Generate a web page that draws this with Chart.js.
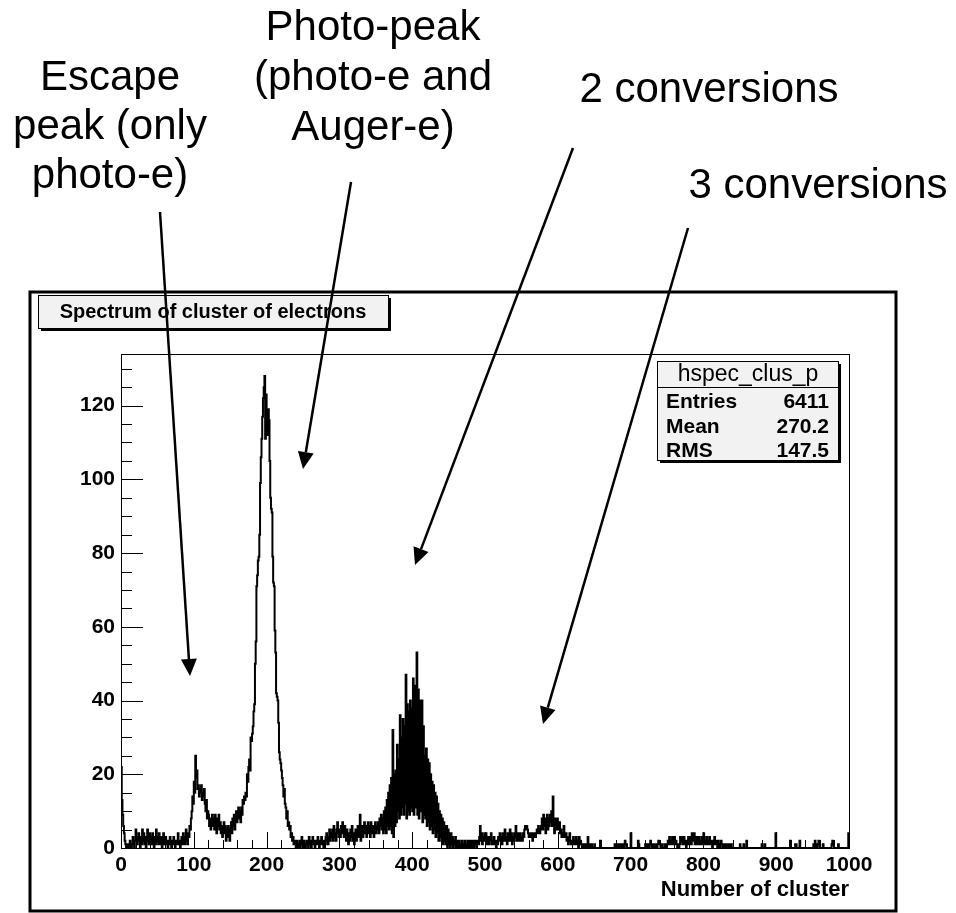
<!DOCTYPE html>
<html>
<head>
<meta charset="utf-8">
<title>Spectrum of cluster of electrons</title>
<script src="https://cdn.jsdelivr.net/npm/chart.js@4.4.1/dist/chart.umd.min.js"></script>
<style>
  html, body { margin: 0; padding: 0; background: #fff; }
  #wrap { width: 956px; height: 913px; }
</style>
</head>
<body>
<div id="wrap"><canvas id="spectrumChart"></canvas></div>
<script>
// Histogram contents, one entry per bin (bin width 1, range 0..1000)
const counts0to99 = [
  22,13,9,6,4,2,1,0,1,0,
  1,0,2,1,0,1,3,1,0,2,
  5,2,1,3,4,2,0,3,1,5,
  2,4,1,3,0,2,5,3,1,4,
  2,3,1,4,2,0,3,1,5,2,
  3,1,4,2,1,3,0,2,4,1,
  2,3,1,2,0,1,2,3,1,0,
  2,1,3,1,0,2,1,2,4,1,
  2,0,1,3,1,4,2,1,3,5,
  2,1,4,3,6,5,8,10,14,12
];
const counts100to199 = [
  18,15,25,19,21,16,17,14,16,15,
  17,13,15,14,16,12,10,13,8,10,
  9,6,8,5,7,9,6,8,5,9,
  7,4,8,6,9,5,7,4,6,3,
  5,7,4,6,2,5,3,6,4,2,
  5,7,4,8,6,9,5,8,10,7,
  9,11,8,10,7,11,9,13,12,14,
  13,15,14,20,18,22,24,21,30,29,
  31,33,37,39,50,56,71,74,78,79,
  85,99,106,111,117,122,125,128,111,123
];
const counts200to299 = [
  119,112,119,116,105,95,92,91,79,72,
  71,59,53,42,41,40,34,26,24,23,
  21,19,17,14,16,12,11,8,10,6,
  7,5,6,3,4,2,3,1,2,1,
  0,2,1,0,1,2,0,1,3,1,
  0,2,1,0,1,2,1,0,3,1,
  2,0,1,3,1,2,0,1,2,1,
  3,1,0,2,1,3,2,1,0,2,
  1,3,4,2,1,3,5,2,4,3,
  5,2,6,3,4,2,5,7,4,3
];
const counts300to399 = [
  5,3,6,4,7,5,3,6,4,2,
  5,3,1,4,2,5,3,6,2,4,
  1,3,5,2,4,6,3,5,9,2,
  4,6,3,5,7,4,6,3,5,7,
  4,6,3,7,5,4,6,3,5,7,
  4,6,5,7,4,8,6,9,5,8,
  4,10,5,11,4,13,6,15,5,17,
  6,19,4,32,3,20,6,21,7,28,
  10,24,8,36,9,30,11,35,9,33,
  12,47,8,39,10,37,9,40,11,38
];
const counts400to499 = [
  10,46,9,44,11,41,53,9,43,8,
  40,10,36,40,7,33,9,25,8,27,
  6,24,7,23,5,20,6,18,4,17,
  5,15,3,14,4,12,2,10,3,9,
  2,8,1,7,2,6,1,6,0,5,
  1,4,0,4,1,3,0,2,1,3,
  0,2,1,0,2,1,0,1,2,0,
  1,0,2,1,0,1,2,0,1,2,
  1,0,2,1,0,2,1,2,0,1,
  2,1,3,6,2,4,1,3,2,4
];
const counts500to599 = [
  2,4,1,3,2,1,3,2,4,1,
  2,1,3,1,2,0,2,1,3,2,
  4,2,3,1,4,2,3,5,2,3,
  1,4,2,3,5,2,4,1,3,2,
  4,3,6,2,3,4,2,3,4,2,
  3,2,4,3,5,6,5,6,5,4,
  3,4,3,4,3,2,4,3,4,3,
  4,5,4,6,5,4,5,6,8,5,
  9,6,8,4,7,9,5,8,6,9,
  7,10,6,14,8,4,8,6,5,8
];
const counts600to699 = [
  6,5,7,4,5,3,4,3,6,4,
  3,4,2,3,1,2,4,2,1,2,
  1,3,2,1,2,3,1,2,0,3,
  1,2,1,0,1,0,1,0,1,0,
  1,3,0,1,0,0,1,0,0,0,
  1,0,0,0,0,0,0,0,2,0,
  0,0,0,0,0,0,0,0,0,0,
  0,0,0,0,0,0,0,0,1,1,
  0,1,1,0,1,0,1,1,0,1,
  1,0,2,1,1,0,0,0,0,0
];
const counts700to799 = [
  4,0,0,0,0,0,0,0,0,0,
  2,1,0,0,0,0,0,0,0,0,
  1,0,1,1,0,0,1,2,1,0,
  0,1,0,0,1,1,0,1,2,1,
  1,0,0,1,0,0,0,1,0,0,
  1,2,1,3,1,2,1,3,2,1,
  3,1,2,1,0,1,0,1,3,2,
  3,1,2,3,1,2,0,2,1,3,
  2,1,3,1,4,2,3,4,1,2,
  3,1,2,3,1,2,1,3,2,1
];
const counts800to899 = [
  4,2,1,2,3,1,2,1,3,1,
  2,1,0,2,1,3,1,2,1,0,
  2,1,0,1,2,1,0,1,0,0,
  1,0,0,1,0,1,0,0,1,0,
  0,0,0,0,0,0,0,0,0,0,
  1,0,0,0,0,1,0,0,0,2,
  0,0,0,0,0,0,0,0,0,0,
  0,0,0,0,0,0,0,0,0,0,
  1,0,0,0,1,0,0,0,0,0,
  0,0,0,0,0,0,0,0,0,4
];
const counts900to999 = [
  0,0,0,0,0,0,0,0,0,0,
  0,0,0,0,0,0,0,0,0,2,
  0,0,0,0,0,0,1,1,0,0,
  0,0,2,0,0,0,0,0,0,0,
  0,0,0,0,0,0,0,0,0,0,
  0,1,0,2,1,0,0,1,2,1,
  0,0,0,0,1,0,0,0,0,0,
  0,0,0,0,0,0,1,2,1,0,
  0,0,0,0,0,1,0,0,0,0,
  0,0,0,0,0,0,0,0,0,4
];

const xTickValues = [0, 100, 200, 300, 400, 500, 600, 700, 800, 900, 1000];
const yTickValues = [0, 20, 40, 60, 80, 100, 120];

const histTitle = 'Spectrum of cluster of electrons';
const histName = 'hspec_clus_p';
const statsLabels = ['Entries', 'Mean', 'RMS'];
const statsValues = ['6411', '270.2', '147.5'];
const xAxisTitle = 'Number of cluster';

// annotation texts (one array per label, one string per line)
const escapeLabel = ['Escape', 'peak (only', 'photo-e)'];
const photoLabel = ['Photo-peak', '(photo-e and', 'Auger-e)'];
const twoConvLabel = ['2 conversions'];
const threeConvLabel = ['3 conversions'];

const FONT = '"Liberation Sans", Arial, Helvetica, sans-serif';

// build step points: each point is the left edge of a bin
const counts = [].concat(counts0to99, counts100to199, counts200to299, counts300to399,
  counts400to499, counts500to599, counts600to699, counts700to799, counts800to899, counts900to999);
const points = [{x: 0, y: 0}];
counts.forEach((c, i) => points.push({x: i, y: c}));
points.push({x: counts.length, y: 0});

function drawArrow(ctx, x1, y1, x2, y2) {
  const ang = Math.atan2(y2 - y1, x2 - x1);
  const len = 17, hw = 8;
  const bx = x2 - len * Math.cos(ang), by = y2 - len * Math.sin(ang);
  ctx.beginPath();
  ctx.moveTo(x1, y1);
  ctx.lineTo(bx, by);
  ctx.stroke();
  ctx.beginPath();
  ctx.moveTo(x2, y2);
  ctx.lineTo(bx + hw * Math.sin(ang), by - hw * Math.cos(ang));
  ctx.lineTo(bx - hw * Math.sin(ang), by + hw * Math.cos(ang));
  ctx.closePath();
  ctx.fill();
}

function drawBox(ctx, x, y, w, h) {
  // ROOT style pave: shadow, light fill, black border
  ctx.fillStyle = '#000';
  ctx.fillRect(x + 3, y + 3, w, h);
  ctx.fillStyle = '#f2f2f2';
  ctx.fillRect(x, y, w, h);
  ctx.strokeStyle = '#000';
  ctx.lineWidth = 1;
  ctx.strokeRect(x + 0.5, y + 0.5, w, h);
}

function drawLines(ctx, lines, cx, y0, step) {
  lines.forEach((t, i) => ctx.fillText(t, cx, y0 + i * step));
}

const rootDecor = {
  id: 'rootDecor',
  afterDraw(chart) {
    const ctx = chart.ctx;
    const {left, right, top, bottom} = chart.chartArea;
    const xs = chart.scales.x, ys = chart.scales.y;
    ctx.save();

    // frame of the plot
    ctx.strokeStyle = '#000';
    ctx.lineWidth = 1;
    ctx.strokeRect(Math.round(left) + 0.5, Math.round(top) + 0.5,
      Math.round(right - left), Math.round(bottom - top));

    // tick marks pointing inwards
    ctx.beginPath();
    for (let v = 0; v <= 1000; v += 20) {
      const px = Math.round(xs.getPixelForValue(v)) + 0.5;
      const len = v % 100 === 0 ? 16 : 8;
      ctx.moveTo(px, bottom);
      ctx.lineTo(px, bottom - len);
    }
    for (let v = 0; v <= 130; v += 5) {
      const py = Math.round(ys.getPixelForValue(v)) + 0.5;
      const len = v % 20 === 0 ? 22 : 11;
      ctx.moveTo(left, py);
      ctx.lineTo(left + len, py);
    }
    ctx.stroke();

    // outer canvas frame
    ctx.lineWidth = 3;
    ctx.strokeRect(30, 292, 866, 619);

    // title pave
    drawBox(ctx, 38, 295, 350, 33);
    ctx.fillStyle = '#000';
    ctx.font = 'bold 20px ' + FONT;
    ctx.textAlign = 'center';
    ctx.fillText(histTitle, 213, 318);

    // stats pave
    drawBox(ctx, 657, 361, 181, 99);
    ctx.beginPath();
    ctx.moveTo(657, 387.5);
    ctx.lineTo(838, 387.5);
    ctx.stroke();
    ctx.fillStyle = '#000';
    ctx.font = '23px ' + FONT;
    ctx.textAlign = 'center';
    ctx.fillText(histName, 748, 381);
    ctx.font = 'bold 21px ' + FONT;
    statsLabels.forEach((lab, i) => {
      const y = 408 + i * 24.5;
      ctx.textAlign = 'left';
      ctx.fillText(lab, 666, y);
      ctx.textAlign = 'right';
      ctx.fillText(statsValues[i], 829, y);
    });

    // annotations
    ctx.font = '42px ' + FONT;
    ctx.textAlign = 'center';
    drawLines(ctx, photoLabel, 373, 40, 50);
    drawLines(ctx, escapeLabel, 110, 90, 49);
    drawLines(ctx, twoConvLabel, 709, 102, 50);
    drawLines(ctx, threeConvLabel, 818, 198, 50);

    ctx.lineWidth = 2.5;
    ctx.strokeStyle = '#000';
    ctx.fillStyle = '#000';
    drawArrow(ctx, 160, 212, 190, 676);
    drawArrow(ctx, 351, 182, 303, 469);
    drawArrow(ctx, 573, 148, 415, 565);
    drawArrow(ctx, 688, 228, 543, 724);

    ctx.restore();
  }
};

const tickFont = {family: FONT, size: 21, weight: 'bold'};

new Chart(document.getElementById('spectrumChart').getContext('2d'), {
  type: 'line',
  data: {
    datasets: [{
      label: histName,
      data: points,
      stepped: true,
      borderColor: '#000',
      borderWidth: 2,
      pointRadius: 0,
      fill: false
    }]
  },
  options: {
    responsive: true,
    maintainAspectRatio: false,
    animation: false,
    layout: {
      padding: {left: 0, right: 107, top: 354, bottom: 0}
    },
    plugins: {
      legend: {display: false},
      tooltip: {enabled: false},
      title: {display: false}
    },
    scales: {
      x: {
        type: 'linear',
        min: 0,
        max: 1000,
        afterBuildTicks: s => { s.ticks = xTickValues.map(v => ({value: v})); },
        afterFit: s => { s.height = 65; },
        grid: {display: false, drawTicks: false},
        border: {display: false},
        ticks: {
          font: tickFont, color: '#000', padding: 5, maxRotation: 0, autoSkip: false,
          callback: v => String(v)
        },
        title: {
          display: true,
          text: xAxisTitle,
          align: 'end',
          color: '#000',
          font: {family: FONT, size: 22, weight: 'bold'},
          padding: {top: 0, bottom: 10}
        }
      },
      y: {
        min: 0,
        max: 134,
        afterBuildTicks: s => { s.ticks = yTickValues.map(v => ({value: v})); },
        afterFit: s => { s.width = 121; },
        grid: {display: false, drawTicks: false},
        border: {display: false},
        ticks: {font: tickFont, color: '#000', padding: 6}
      }
    }
  },
  plugins: [rootDecor]
});
</script>
</body>
</html>
